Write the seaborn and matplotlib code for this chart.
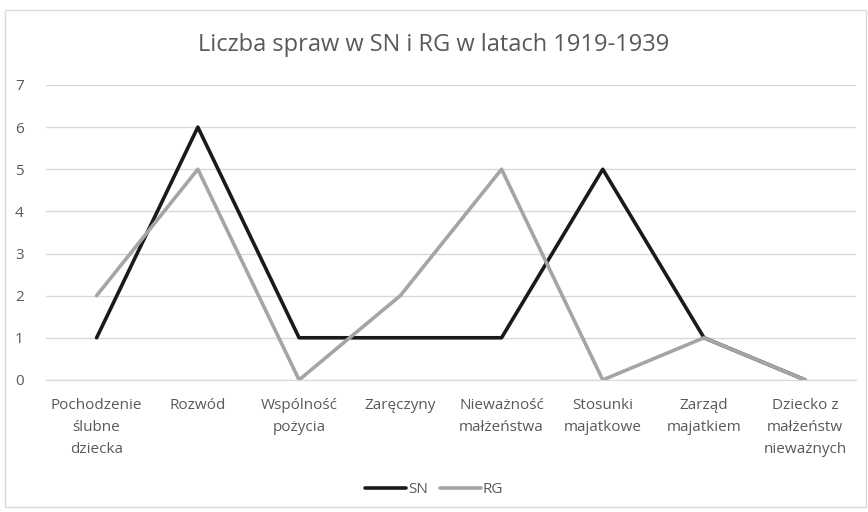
import matplotlib.pyplot as plt
import pandas as pd
import seaborn as sns
from matplotlib.patches import Rectangle

# Data
categories = [
    "Pochodzenie\nślubne\ndziecka",
    "Rozwód",
    "Wspólność\npożycia",
    "Zaręczyny",
    "Nieważność\nmałżeństwa",
    "Stosunki\nmajatkowe",
    "Zarząd\nmajatkiem",
    "Dziecko z\nmałżeństw\nnieważnych",
]
sn_values = [1, 6, 1, 1, 1, 5, 1, 0]
rg_values = [2, 5, 0, 2, 5, 0, 1, 0]

data = pd.DataFrame(
    {
        "pos": list(range(len(categories))) * 2,
        "value": sn_values + rg_values,
        "series": ["SN"] * len(sn_values) + ["RG"] * len(rg_values),
    }
)

sns.set_style("white")
plt.rcParams["font.family"] = ["Open Sans", "DejaVu Sans"]

fig = plt.figure(figsize=(8.68, 5.12), dpi=100)
ax = fig.add_axes([0.053, 0.258, 0.933, 0.576])

# Outer chart border
fig.patches.append(
    Rectangle((0.006, 0.01), 0.992, 0.97, transform=fig.transFigure,
              fill=False, edgecolor="#d9d9d9", linewidth=1)
)

sns.lineplot(
    data=data, x="pos", y="value", hue="series",
    palette={"SN": "#1a1a1a", "RG": "#a5a5a5"},
    linewidth=2.6, ax=ax, legend=False,
)

ax.set_xlim(-0.5, len(categories) - 0.5)
ax.set_ylim(0, 7)
ax.set_yticks(range(0, 8))
ax.set_xticks(range(len(categories)))
ax.set_xticklabels(categories, fontsize=11, color="#595959", linespacing=1.65)
ax.tick_params(axis="y", labelsize=11, labelcolor="#595959", length=0, pad=16)
ax.tick_params(axis="x", length=0, pad=13)
ax.set_xlabel("")
ax.set_ylabel("")
ax.grid(axis="y", color="#d9d9d9", linewidth=1)
ax.set_axisbelow(True)
for side in ["top", "right", "left"]:
    ax.spines[side].set_visible(False)
ax.spines["bottom"].set_color("#d9d9d9")

fig.text(0.5, 0.912, "Liczba spraw w SN i RG w latach 1919-1939",
         ha="center", va="center", fontsize=17, color="#595959")

# Legend
handles = [
    plt.Line2D([], [], color="#1a1a1a", linewidth=2.6, label="SN"),
    plt.Line2D([], [], color="#a5a5a5", linewidth=2.6, label="RG"),
]
fig.legend(handles=handles, loc="center", bbox_to_anchor=(0.5, 0.043), ncol=2,
           frameon=False, fontsize=11, handlelength=2.7, handletextpad=0.1,
           columnspacing=0.8, labelcolor="#595959")

fig.savefig("out.png", dpi=100)
